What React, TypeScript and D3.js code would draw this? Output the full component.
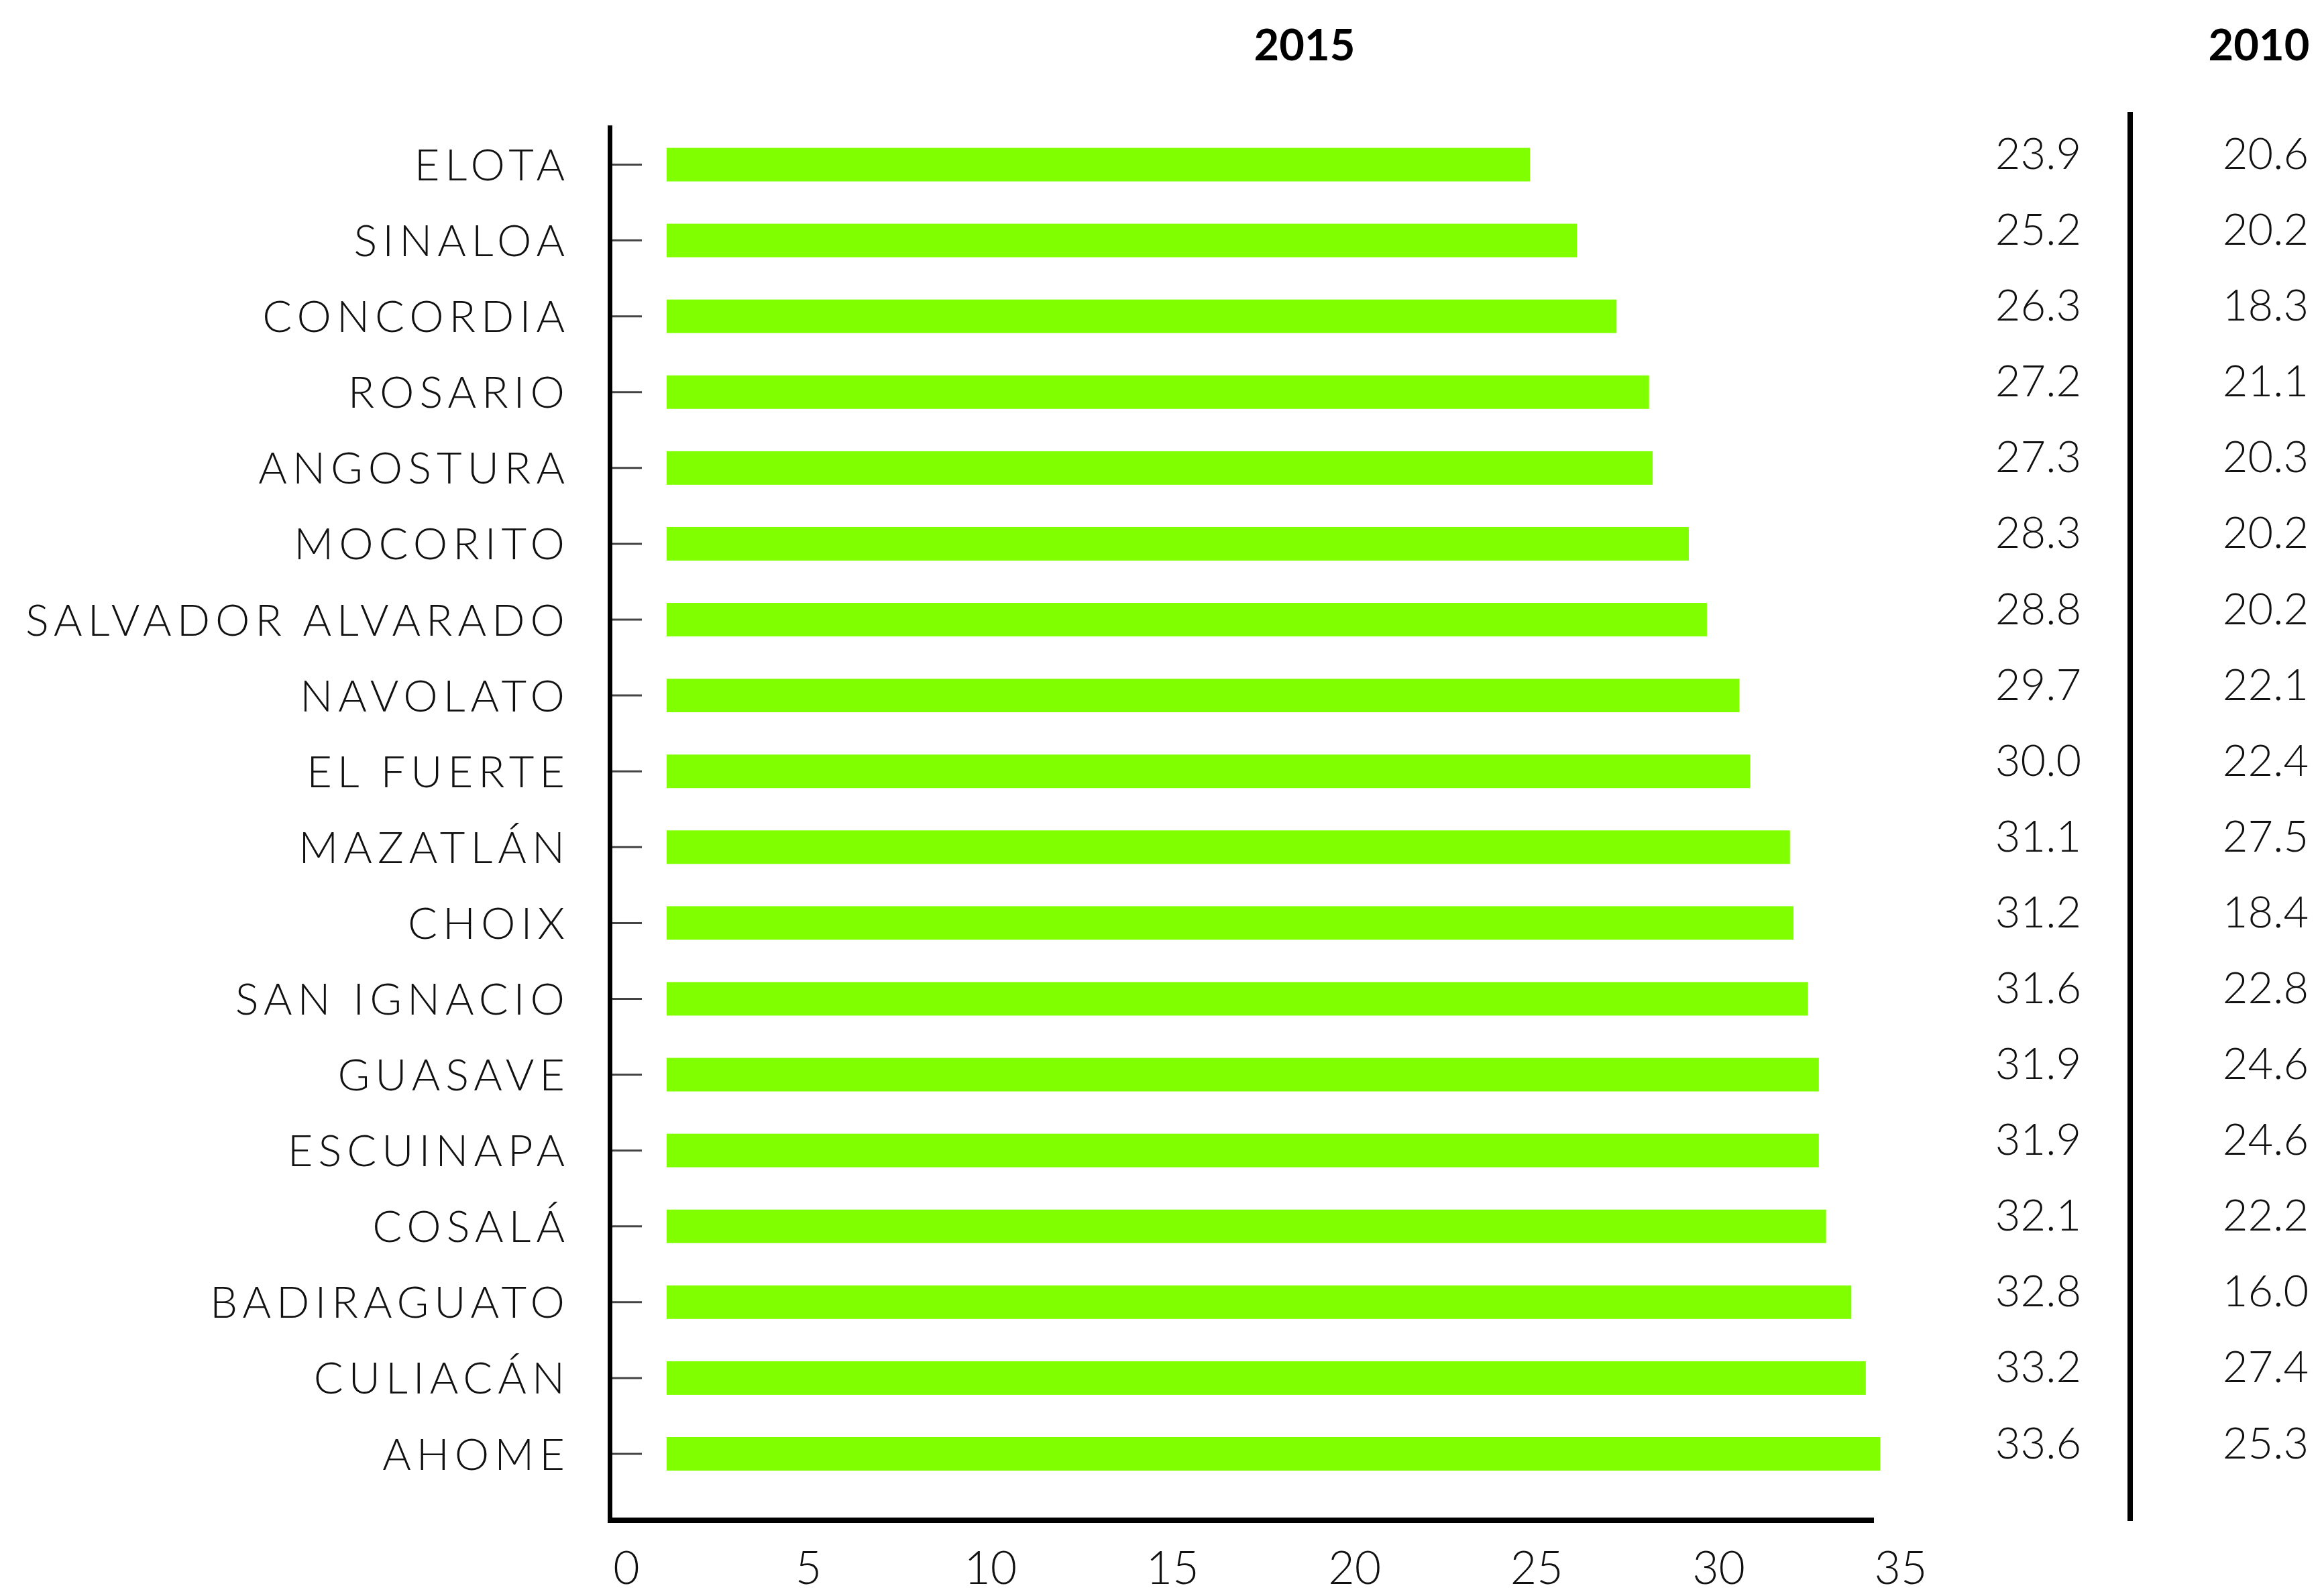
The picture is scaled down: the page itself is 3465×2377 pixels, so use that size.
import React from "react";
import * as d3 from "d3";

/* DATA */
const categories = [
  "ELOTA",
  "SINALOA",
  "CONCORDIA",
  "ROSARIO",
  "ANGOSTURA",
  "MOCORITO",
  "SALVADOR ALVARADO",
  "NAVOLATO",
  "EL FUERTE",
  "MAZATLÁN",
  "CHOIX",
  "SAN IGNACIO",
  "GUASAVE",
  "ESCUINAPA",
  "COSALÁ",
  "BADIRAGUATO",
  "CULIACÁN",
  "AHOME",
];
const values2015 = [
  23.9, 25.2, 26.3, 27.2, 27.3, 28.3, 28.8, 29.7, 30.0, 31.1, 31.2, 31.6, 31.9,
  31.9, 32.1, 32.8, 33.2, 33.6,
];
const values2010 = [
  20.6, 20.2, 18.3, 21.1, 20.3, 20.2, 20.2, 22.1, 22.4, 27.5, 18.4, 22.8, 24.6,
  24.6, 22.2, 16.0, 27.4, 25.3,
];
const xTicks = [0, 5, 10, 15, 20, 25, 30, 35];
const titles = ["2015", "2010"];

const App = () => {
  /* Size & style */
  const width = 3465;
  const height = 2377;
  const fontFamily = "Lato, 'Open Sans', sans-serif";
  const fontSize = 65;
  const capHalf = 23.5;
  const labelSpacing = 8;
  const barColor = "#80ff00";
  const barHeight = 50;

  /* Axis positions */
  const axisX = 909.5;
  const axisY = 2267;
  const axisTop = 187;
  const axisRight = 2794;
  const col2015 = 3039;
  const col2010 = 3378;
  const separatorX = 3176;

  /* Scales */
  const x = d3.scaleLinear().domain([0, 35]).range([994, 994 + 35 * 53.85]);
  const xLabel = d3.scaleLinear().domain([0, 35]).range([934, 2834]);
  const y = d3.scalePoint<string>().domain(categories).range([245.5, 2168]);

  return (
    <svg
      width={width}
      height={height}
      style={{ position: "absolute", left: 0, top: 0, background: "white" }}
      fontFamily={fontFamily}
    >
      {/* Titles */}
      <text
        x={1945}
        y={90}
        textAnchor="middle"
        fontSize={fontSize}
        fontWeight={700}
      >
        {titles[0]}
      </text>
      <text
        x={3368}
        y={90}
        textAnchor="middle"
        fontSize={fontSize}
        fontWeight={700}
      >
        {titles[1]}
      </text>

      {/* Bars */}
      {categories.map((c, i) => (
        <rect
          key={c}
          x={x(0)}
          y={y(c)! - barHeight / 2}
          width={x(values2015[i]) - x(0)}
          height={barHeight}
          fill={barColor}
        />
      ))}

      {/* Category ticks and labels */}
      {categories.map((c) => (
        <g key={c}>
          <line
            x1={axisX}
            x2={957}
            y1={y(c)}
            y2={y(c)}
            stroke="#444"
            strokeWidth={3}
          />
          <text
            x={842 + labelSpacing}
            y={y(c)! + capHalf}
            textAnchor="end"
            fontSize={fontSize}
            fontWeight={300}
            letterSpacing={labelSpacing}
            fill="#111"
          >
            {c}
          </text>
        </g>
      ))}

      {/* Axes */}
      <line
        x1={axisX}
        x2={axisX}
        y1={axisTop}
        y2={axisY + 4}
        stroke="#000"
        strokeWidth={7}
      />
      <line
        x1={906}
        x2={axisRight}
        y1={axisY}
        y2={axisY}
        stroke="#000"
        strokeWidth={8}
      />
      {xTicks.map((t) => (
        <text
          key={t}
          x={xLabel(t)}
          y={2362}
          textAnchor="middle"
          fontSize={68}
          fontWeight={300}
          fill="#111"
        >
          {t}
        </text>
      ))}

      {/* Value columns */}
      {categories.map((c, i) => (
        <g key={c}>
          <text
            x={col2015}
            y={y(c)! + 6.5}
            textAnchor="middle"
            fontSize={fontSize}
            fontWeight={300}
            fill="#111"
          >
            {values2015[i].toFixed(1)}
          </text>
          <text
            x={col2010}
            y={y(c)! + 6.5}
            textAnchor="middle"
            fontSize={fontSize}
            fontWeight={300}
            fill="#111"
          >
            {values2010[i].toFixed(1)}
          </text>
        </g>
      ))}
      <line
        x1={separatorX}
        x2={separatorX}
        y1={167}
        y2={2268}
        stroke="#000"
        strokeWidth={8}
      />
    </svg>
  );
};

export default App;
